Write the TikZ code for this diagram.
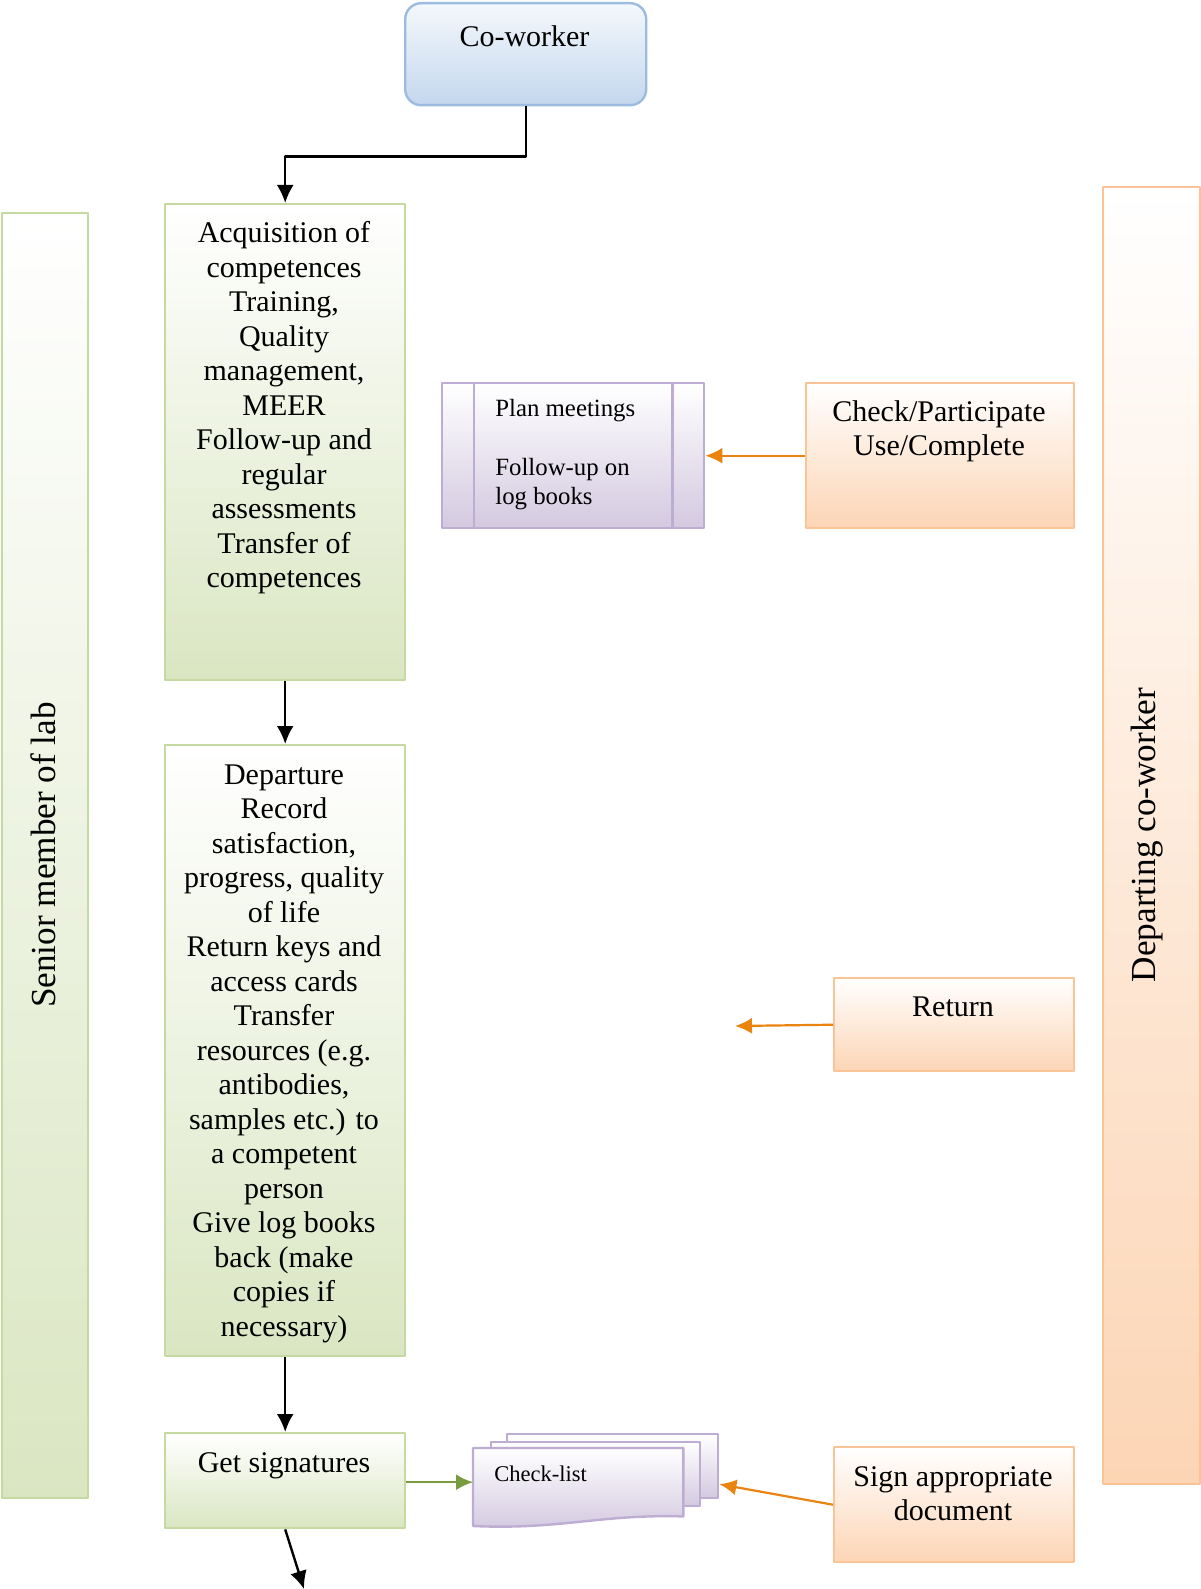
\documentclass[tikz,border=0pt]{standalone}
\usepackage{fontspec}
\setmainfont{Liberation Serif}
\usetikzlibrary{arrows.meta}
\definecolor{blueline}{HTML}{9DBBE0}
\definecolor{bluetop}{HTML}{F4F8FC}
\definecolor{bluebot}{HTML}{C4D7EE}
\definecolor{greenline}{HTML}{C6D9A0}
\definecolor{greenbot}{HTML}{DAE6C2}
\definecolor{purpline}{HTML}{BDADD3}
\definecolor{purpbot}{HTML}{D3C9E0}
\definecolor{orangeline}{HTML}{FAC496}
\definecolor{orangebot}{HTML}{FCD5B5}
\definecolor{arroworange}{HTML}{EB840F}
\definecolor{arrowgreen}{HTML}{7A9A3E}
\tikzset{
  box/.style={anchor=north west,inner sep=0pt,line width=1.2pt},
  bluebox/.style={box,draw=blueline,top color=bluetop,bottom color=bluebot,rounded corners=8pt},
  greenbox/.style={box,draw=greenline,top color=white,bottom color=greenbot},
  purpbox/.style={box,draw=purpline,top color=white,bottom color=purpbot},
  orangebox/.style={box,draw=orangeline,top color=white,bottom color=orangebot},
  txt/.style={anchor=north,inner sep=0pt,align=center,font=\fontsize{15}{17.25}\selectfont},
  smalltxt/.style={anchor=north west,inner sep=0pt,align=left,font=\fontsize{12.4}{14.7}\selectfont},
  sidetxt/.style={rotate=90,inner sep=0pt,font=\fontsize{17.6}{21}\selectfont},
  flow/.style={black,line width=1.2pt,->},
  feed/.style={arroworange,line width=1.1pt,->,>={Latex[length=8.5pt,width=8pt]}},
}
\begin{document}
\begin{tikzpicture}[x=0.5pt,y=-0.5pt,>={Latex[length=9pt,width=8.5pt]},line join=bevel]
\useasboundingbox (0,0) rectangle (1200,1589);
%%
\node (coworker) at (404,2) [bluebox,minimum width=120.5pt,minimum height=51pt] {};
  \node (coworkertext) at (524.5,25) [txt] {Co-worker};
  \node (senior) at (1,212) [greenbox,minimum width=43pt,minimum height=642.5pt] {};
  \node (seniortext) at (43,855) [sidetxt] {Senior member of lab};
  \node (acq) at (164,203) [greenbox,minimum width=120pt,minimum height=238pt] {};
  \node (acqtext) at (284,221) [txt] {Acquisition of\\competences\\Training,\\Quality\\management,\\MEER\\Follow-up and\\regular\\assessments\\Transfer of\\competences};
  \node (depart) at (164,744) [greenbox,minimum width=120pt,minimum height=305.5pt] {};
  \node (departtext) at (284,764) [txt] {Departure\\Record\\satisfaction,\\progress, quality\\of life\\Return keys and\\access cards\\Transfer\\resources (e.g.\\antibodies,\\samples etc.) to\\a competent\\person\\Give log books\\back (make\\copies if\\necessary)};
  \node (signat) at (164,1432) [greenbox,minimum width=120pt,minimum height=47.5pt] {};
  \node (signattext) at (284,1452) [txt] {Get signatures};
  \coordinate (sigend) at (304,1589);
%
\node (plan) at (441,382) [purpbox,minimum width=131pt,minimum height=72.5pt] {};
  \draw [purpline,line width=1.2pt] ([xshift=16.5pt]plan.north west) -- ([xshift=16.5pt]plan.south west);
  \draw [purpline,line width=1.2pt] ([xshift=-16.5pt]plan.north east) -- ([xshift=-16.5pt]plan.south east);
  \node (plantext) at (495,399) [smalltxt] {Plan meetings\\[14.7pt]Follow-up on\\log books};
  \node (check) at (805,382) [orangebox,minimum width=134pt,minimum height=72.5pt] {};
  \node (checktext) at (939,400) [txt] {Check/Participate\\Use/Complete};
  \node (ret) at (833,977) [orangebox,minimum width=120pt,minimum height=46.5pt] {};
  \node (rettext) at (953,996) [txt] {Return};
  \coordinate (retend) at (735,1026);
  \node (sign) at (833,1446) [orangebox,minimum width=120pt,minimum height=57.5pt] {};
  \node (signtext) at (953,1466) [txt] {Sign appropriate\\document};
  \node (departing) at (1102,186) [orangebox,minimum width=48.5pt,minimum height=648.5pt] {};
  \node (departingtext) at (1147,835) [sidetxt] {Departing co-worker};
%
\node (checkback) at (506,1433) [purpbox,minimum width=105.5pt,minimum height=32pt] {};
  \node (checkmid) at (490,1441) [purpbox,minimum width=104.5pt,minimum height=32pt] {};
  \node (checklist) at (473,1448) [box,minimum width=104pt,minimum height=33pt] {};
  \draw [purpline,line width=1.2pt,top color=white,bottom color=purpbot] (checklist.north west) -- (checklist.north east) -- (checklist.south east) .. controls (600,1514) and (560,1530) .. (473,1526) -- cycle;
  \node (checklisttext) at (494,1465) [smalltxt,font=\fontsize{11.25}{13.5}\selectfont] {Check-list};
%
\draw [flow] (coworker.south) -- ++(0,50) -| (acq.north);
  \draw [flow] (acq.south) -- (depart.north);
  \draw [flow] (depart.south) -- (signat.north);
  \draw [flow] (signat.south) -- (sigend);
  \draw [feed] (check.west) -- (plan.east);
  \draw [feed] (ret.west) -- (retend);
  \draw [feed] (sign.west) -- ([yshift=-9pt]checkback.east);
  \draw [feed,arrowgreen] (signat.east |- checklist.west) -- (checklist.west);
%
\end{tikzpicture}
\end{document}
